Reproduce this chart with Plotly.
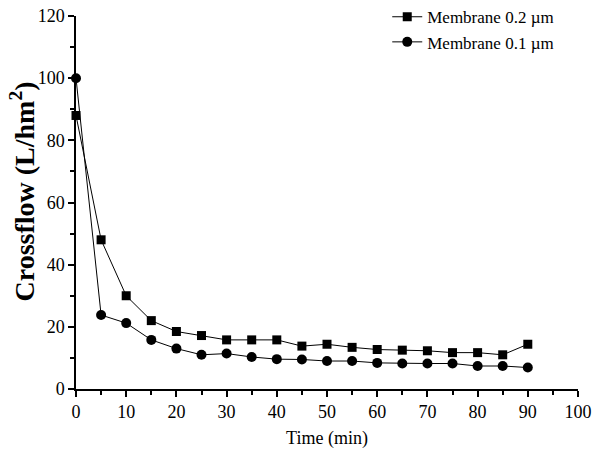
import plotly.graph_objects as go

# time points (min)
time = [0, 5, 10, 15, 20, 25, 30, 35, 40, 45, 50, 55, 60, 65, 70, 75, 80, 85, 90]

# crossflow readings (L/hm2) for each membrane
flow_02 = [88, 48, 30, 22, 18.5, 17.2, 15.8, 15.8, 15.8, 13.8, 14.4, 13.4, 12.7, 12.5, 12.3, 11.7, 11.7, 11.0, 14.4]
flow_01 = [100, 23.8, 21.2, 15.8, 13.0, 11.0, 11.4, 10.3, 9.6, 9.5, 9.0, 9.0, 8.4, 8.2, 8.2, 8.2, 7.4, 7.4, 6.9]

font_name = 'Liberation Serif'

fig = go.Figure()
fig.add_trace(go.Scatter(x=time, y=flow_02, mode='lines+markers', name='Membrane 0.2 µm',
                         line=dict(color='black', width=1),
                         marker=dict(symbol='square', size=9, color='black'),
                         cliponaxis=False))
fig.add_trace(go.Scatter(x=time, y=flow_01, mode='lines+markers', name='Membrane 0.1 µm',
                         line=dict(color='black', width=1),
                         marker=dict(symbol='circle', size=10, color='black'),
                         cliponaxis=False))

fig.update_layout(
    width=600, height=456,
    margin=dict(l=76, r=22, t=16, b=67, autoexpand=False),
    plot_bgcolor='white', paper_bgcolor='white',
    font=dict(family=font_name, size=18, color='black'),
    legend=dict(x=0.62, y=1.045, xanchor='left', yanchor='top',
                bgcolor='rgba(0,0,0,0)', font=dict(size=17),
                tracegroupgap=0),
    showlegend=True,
)

fig.update_xaxes(
    range=[0, 100], dtick=10, tick0=0, automargin=False, ticklabeloverflow='allow',
    showline=True, linecolor='black', linewidth=1.5,
    ticks='outside', ticklen=6, tickwidth=1.5, tickcolor='black',
    minor=dict(ticks='outside', ticklen=4, dtick=5, tickwidth=1.5, tickcolor='black'),
    showgrid=False, zeroline=False,
    title=dict(text='Time (min)', font=dict(size=18), standoff=10),
)
fig.update_yaxes(
    range=[0, 120], dtick=20, tick0=0, automargin=False, ticklabeloverflow='allow',
    showline=True, linecolor='black', linewidth=1.5,
    ticks='outside', ticklen=6, tickwidth=1.5, tickcolor='black',
    minor=dict(ticks='outside', ticklen=4, dtick=10, tickwidth=1.5, tickcolor='black'),
    showgrid=False, zeroline=False,
)

# y title as an annotation so its place doesn't depend on tick label measuring
fig.add_annotation(text='<b>Crossflow (L/hm<sup>2</sup>)</b>', textangle=-90,
                   xref='paper', yref='paper', x=0, y=0.5,
                   xanchor='center', yanchor='middle', xshift=-53, yshift=11,
                   showarrow=False, font=dict(size=28))

# drop the page's default body margin so the figure fills the window
fig.write_html('out.html', post_script="document.body.style.margin='0';",
               config={'displayModeBar': False})
